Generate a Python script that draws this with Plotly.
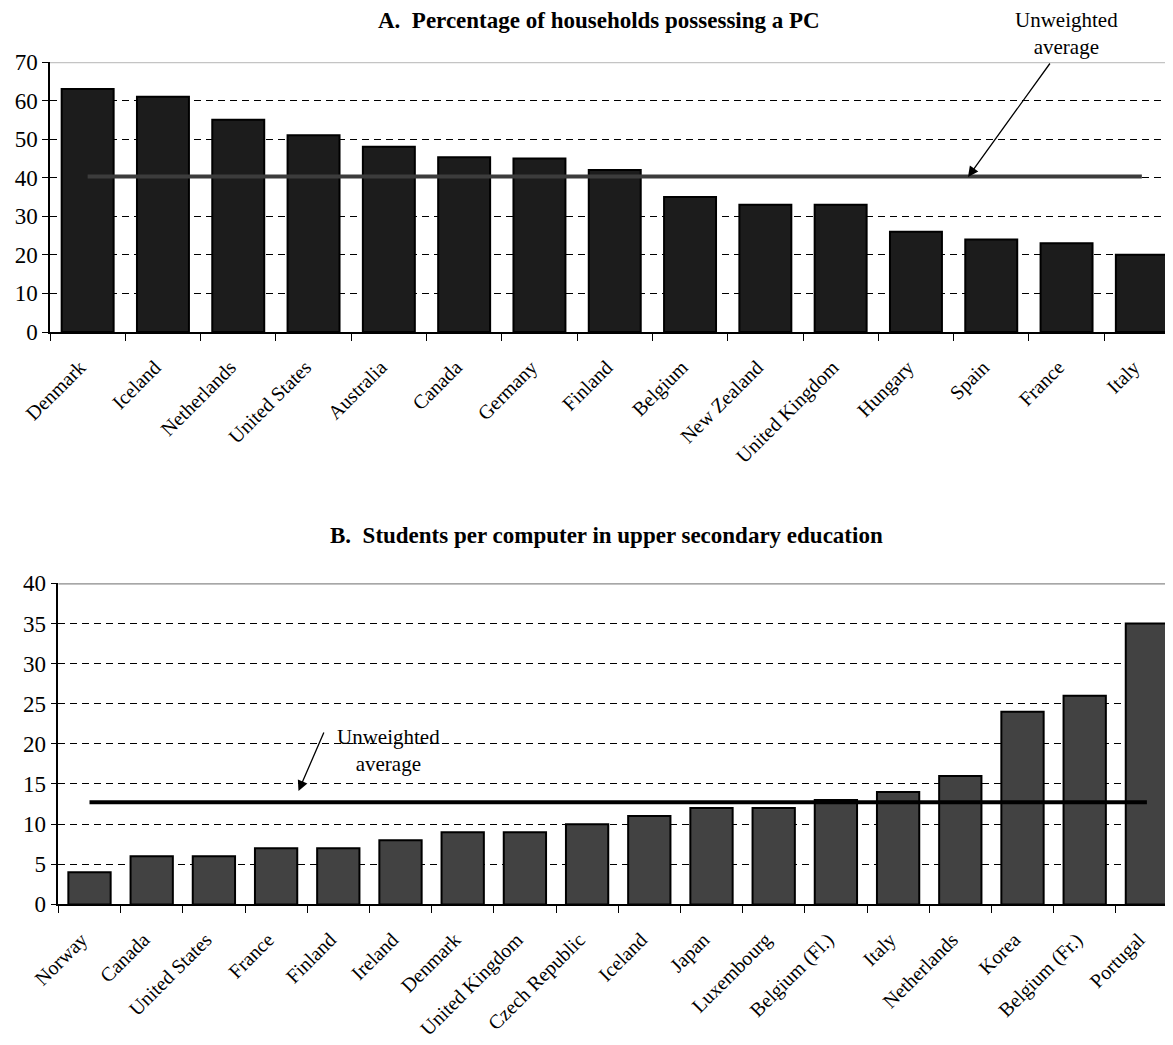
import plotly.graph_objects as go

# ---- Data ----
countries_a = ["Denmark", "Iceland", "Netherlands", "United States", "Australia", "Canada",
               "Germany", "Finland", "Belgium", "New Zealand", "United Kingdom", "Hungary",
               "Spain", "France", "Italy"]
pc_share_a = [63, 61, 55, 51, 48, 45.3, 45, 42, 35, 33, 33, 26, 24, 23, 20]

countries_b = ["Norway", "Canada", "United States", "France", "Finland", "Ireland", "Denmark",
               "United Kingdom", "Czech Republic", "Iceland", "Japan", "Luxembourg",
               "Belgium (Fl.)", "Italy", "Netherlands", "Korea", "Belgium (Fr.)", "Portugal"]
students_per_pc_b = [4, 6, 6, 7, 7, 8, 9, 9, 10, 11, 12, 12, 13, 14, 16, 24, 26, 35]

yticks_a = [0, 10, 20, 30, 40, 50, 60, 70]
yticks_b = [0, 5, 10, 15, 20, 25, 30, 35, 40]

title_a = "A.  Percentage of households possessing a PC"
title_b = "B.  Students per computer in upper secondary education"
avg_label = "Unweighted<br>average"

avg_a = sum(pc_share_a) / len(pc_share_a)
avg_b = sum(students_per_pc_b) / len(students_per_pc_b)

W, H = 1173, 1045
OFF = 8  # page body margin in the browser
FONT = "Liberation Serif"


def px(xr):
    return (xr - OFF) / W


def py(yr):
    return 1 - (yr - OFF) / H


fig = go.Figure()

fig.add_trace(go.Bar(x=countries_a, y=pc_share_a, xaxis="x", yaxis="y", width=0.69,
                     marker=dict(color="#1c1c1c", line=dict(color="black", width=2)),
                     showlegend=False))
fig.add_trace(go.Scatter(x=[countries_a[0], countries_a[-1]], y=[avg_a, avg_a],
                         xaxis="x", yaxis="y", mode="lines",
                         line=dict(color="#3c3c3c", width=4), showlegend=False))

fig.add_trace(go.Bar(x=countries_b, y=students_per_pc_b, xaxis="x2", yaxis="y2", width=0.68,
                     marker=dict(color="#424242", line=dict(color="black", width=2)),
                     showlegend=False))
fig.add_trace(go.Scatter(x=[countries_b[0], countries_b[-1]], y=[avg_b, avg_b],
                         xaxis="x2", yaxis="y2", mode="lines",
                         line=dict(color="black", width=4), showlegend=False))

common_x = dict(type="category", tickangle=-45, ticks="outside", tickson="boundaries",
                ticklen=7, tickcolor="black", showline=True, linecolor="black", linewidth=1.5,
                showgrid=False, automargin=False, ticklabelstandoff=14, ticklabelshift=-8,
                tickfont=dict(family=FONT, size=20, color="black"))
common_y = dict(ticks="outside", ticklen=6, tickcolor="black", showline=True, linecolor="black",
                linewidth=1.5, showgrid=True, gridcolor="black", griddash="7px,5px", gridwidth=1,
                zeroline=False, automargin=False, tickfont=dict(family=FONT, size=23, color="black"))

bin_a = 75.3
bin_b = 62.2
x0_a, x0_b = 50, 58.4
xend = W + OFF  # right edge of plot in reference coords

fig.update_layout(
    width=W, height=H, margin=dict(l=0, r=0, t=0, b=0),
    paper_bgcolor="white", plot_bgcolor="white",
    xaxis=dict(common_x, domain=[px(x0_a), 1], range=[-0.5, -0.5 + (xend - x0_a) / bin_a], anchor="y"),
    yaxis=dict(common_y, domain=[py(332), py(62)], range=[0, 70], tickvals=yticks_a, anchor="x"),
    xaxis2=dict(common_x, domain=[px(x0_b), 1], range=[-0.5, -0.5 + (xend - x0_b) / bin_b], anchor="y2"),
    yaxis2=dict(common_y, domain=[py(904.4), py(583.3)], range=[0, 40], tickvals=yticks_b, anchor="x2"),
)

# top border lines
fig.add_shape(type="line", xref="x domain", yref="y", x0=0, x1=1, y0=70, y1=70,
              line=dict(color="#c4c4c4", width=2.5))
fig.add_shape(type="line", xref="x2 domain", yref="y2", x0=0, x1=1, y0=40, y1=40,
              line=dict(color="#8a8a8a", width=2.5))

# titles
fig.add_annotation(text="<b>" + title_a + "</b>", xref="paper", yref="paper", x=px(599), y=py(20),
                   xanchor="center", yanchor="middle", showarrow=False,
                   font=dict(family=FONT, size=23, color="black"))
fig.add_annotation(text="<b>" + title_b + "</b>", xref="paper", yref="paper", x=px(606), y=py(535),
                   xanchor="center", yanchor="middle", showarrow=False,
                   font=dict(family=FONT, size=23, color="black"))

# average labels + arrows
fig.add_annotation(text=avg_label, xref="paper", yref="paper", x=px(1066), y=py(33),
                   xanchor="center", yanchor="middle", showarrow=False,
                   font=dict(family=FONT, size=21, color="black"))
fig.add_annotation(text="", xref="paper", yref="paper", x=px(968), y=py(177),
                   ax=83, ay=-115, showarrow=True, arrowhead=2, arrowsize=1.6, arrowwidth=1.3,
                   arrowcolor="black", standoff=0, startstandoff=0)
fig.add_annotation(text=avg_label, xref="paper", yref="paper", x=px(388), y=py(750),
                   xanchor="center", yanchor="middle", showarrow=False,
                   font=dict(family=FONT, size=21, color="black"))
fig.add_annotation(text="", xref="paper", yref="paper", x=px(298.5), y=py(791),
                   ax=26, ay=-60, showarrow=True, arrowhead=2, arrowsize=1.6, arrowwidth=1.3,
                   arrowcolor="black", standoff=0, startstandoff=0)

fig.write_html("out.html")
